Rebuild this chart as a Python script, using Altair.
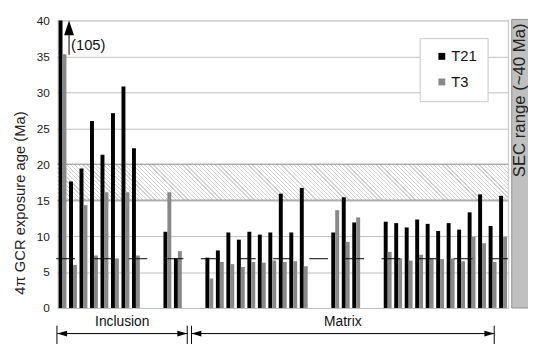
import altair as alt
import pandas as pd

# ---------------- data ----------------
group_names = ["Inclusion", "Inclusion", "Matrix", "Matrix", "Matrix"]
t21_groups = [
    [105, 17.6, 19.4, 26.0, 21.3, 27.1, 30.8, 22.2],
    [10.6, 6.9],
    [7.0, 8.0, 10.5, 9.5, 10.6, 10.2, 10.5, 15.9, 10.5, 16.7],
    [10.5, 15.4, 11.9],
    [12.0, 11.8, 11.2, 12.3, 11.7, 10.7, 11.8, 10.9, 13.3, 15.8, 11.4, 15.6],
]
t3_groups = [
    [35.3, 6.0, 14.3, 7.3, 16.1, 6.9, 16.1, 7.3],
    [16.1, 7.9],
    [4.1, 6.4, 6.1, 5.7, 6.4, 6.3, 6.6, 6.4, 6.5, 5.8],
    [13.6, 9.2, 12.6],
    [7.8, 6.9, 6.6, 7.4, 6.9, 6.8, 6.9, 6.5, 9.9, 9.0, 6.4, 9.9],
]
series = ["T21", "T3"]
series_colors = ["#000000", "#888888"]
reference_age = [6.85]
sec_band = [15, 20]
y_ticks = list(range(0, 41, 5))
y_max = 40
y_title = "4π GCR exposure age (Ma)"
sec_label = "SEC range (~40 Ma)"

# ---------------- table ----------------
GAP = 2
rows = []
slot = 0
for gi, (a, b) in enumerate(zip(t21_groups, t3_groups)):
    if gi > 0:
        slot += GAP
    for v21, v3 in zip(a, b):
        rows.append({"slot": slot, "series": "T21", "value": v21})
        rows.append({"slot": slot, "series": "T3", "value": v3})
        slot += 1
n_slots = slot
df = pd.DataFrame(rows)

# ---------------- layout ----------------
W, H = 458, 292
PAD = {"left": 50, "top": 10, "right": 20, "bottom": 34}
PX0, PY0 = 8 + PAD["left"], 8 + PAD["top"]


def px(x):
    return x - PX0


def py(y):
    return y - PY0


FONT = "Liberation Sans"
yscale = alt.Scale(domain=[0, y_max], nice=False, clamp=True)
yaxis = alt.Axis(
    values=y_ticks, grid=True, gridColor="#c0c0c0", domain=False, ticks=False,
    labelPadding=8, labelFontSize=12, labelColor="#222222",
    titleFontSize=15, titleFontWeight="normal", titleColor="#222222",
    titleX=-38, titleY=185, titleBaseline="middle",
)


def Y(field):
    return alt.Y(field, scale=yscale, axis=yaxis, title=y_title)


one = pd.DataFrame({"k": [0]})

# hatch band as striped gradient (diagonal lines)
band_h = H * (sec_band[1] - sec_band[0]) / y_max
r = band_h / W
ga = (1 + r) / (1 + r * r)
gb = ga * r
N = 118
stops = []
for k in range(N):
    s0 = k / N
    s1 = (k + 0.7) / N
    s2 = (k + 1) / N
    stops += [
        alt.GradientStop(offset=round(s0, 6), color="#ffffff"),
        alt.GradientStop(offset=round(s1, 6), color="#ffffff"),
        alt.GradientStop(offset=round(s1, 6), color="#d2d2d2"),
        alt.GradientStop(offset=round(min(s2, 1.0), 6), color="#d2d2d2"),
    ]
hatch_grad = alt.LinearGradient(
    gradient="linear", stops=stops, x1=0, y1=1, x2=ga, y2=1 - gb
)

band_df = pd.DataFrame({"lo": [sec_band[0]], "hi": [sec_band[1]]})
hatch = alt.Chart(band_df).mark_rect(fill=hatch_grad).encode(
    x=alt.value(0), x2=alt.value(W), y=Y("lo:Q"), y2="hi:Q"
)
band_lines = alt.Chart(pd.DataFrame({"v": sec_band})).mark_rule(
    color="#8c8c8c", strokeWidth=1
).encode(y=Y("v:Q"))

bars = alt.Chart(df).mark_bar().encode(
    x=alt.X("slot:O", scale=alt.Scale(domain=list(range(n_slots)),
            paddingInner=0.25, paddingOuter=0.125), axis=None),
    xOffset=alt.XOffset("series:N", scale=alt.Scale(domain=series,
                        paddingInner=0, paddingOuter=0)),
    y=Y("value:Q"),
    color=alt.Color("series:N", scale=alt.Scale(domain=series, range=series_colors),
                    legend=alt.Legend(
                        orient="none", legendX=px(426), legendY=py(36), title=None,
                        symbolType="square", symbolSize=49, symbolStrokeWidth=0,
                        labelFontSize=15, labelFont=FONT, labelColor="#111111",
                        padding=11, rowPadding=10, symbolOffset=4, labelOffset=2,
                        strokeColor="#c8c8c8", fillColor="#ffffff")),
)

ref_line = alt.Chart(pd.DataFrame({"v": reference_age})).mark_rule(
    color="#000000", strokeWidth=1, strokeDash=[19, 17.7]
).encode(y=Y("v:Q"), x=alt.value(-1), x2=alt.value(W))

right_border = alt.Chart(one).mark_rule(color="#c8c8c8").encode(
    x=alt.value(W), y=alt.value(py(17)), y2=alt.value(H)
)

# off-scale arrow for the first T21 value
arrow_line = alt.Chart(one).mark_rule(color="#000000", strokeWidth=1).encode(
    x=alt.value(px(70)), y=alt.value(py(31)), y2=alt.value(py(53))
)
arrow_head = alt.Chart(one).mark_point(
    shape="M0,-1L-0.667,1L0.667,1Z", filled=True, color="#000000", size=225, opacity=1
).encode(x=alt.value(px(70)), y=alt.value(py(25.5)))
arrow_text = alt.Chart(one).mark_text(
    text=f"({t21_groups[0][0]})", align="left", baseline="middle",
    fontSize=15, font=FONT, color="#111111"
).encode(x=alt.value(px(72)), y=alt.value(py(43)))

# SEC side panel
panel = alt.Chart(one).mark_rect(fill="#c0c0c0", stroke="#909090", strokeWidth=1).encode(
    x=alt.value(px(519.5)), x2=alt.value(px(545)), y=alt.value(py(17)), y2=alt.value(py(310))
)
panel_text = alt.Chart(one).mark_text(
    text=sec_label, angle=270, align="right", baseline="middle",
    fontSize=17, font=FONT, color="#222222"
).encode(x=alt.value(px(527.5)), y=alt.value(py(21)))

# bottom group brackets
vlines = alt.Chart(pd.DataFrame({"x": [px(57.7), px(190), px(194.3), px(501.7)]})).mark_rule(
    color="#000000", strokeWidth=1
).encode(x=alt.X("x:Q", scale=None), y=alt.value(py(328)), y2=alt.value(py(360)))
spans = pd.DataFrame({
    "x": [px(58), px(194.3)], "x2": [px(190), px(501.7)],
    "cx": [px(124), px(348)], "label": [group_names[0], group_names[2]],
})
hlines = alt.Chart(spans).mark_rule(color="#000000", strokeWidth=1).encode(
    x=alt.X("x:Q", scale=None), x2="x2:Q", y=alt.value(py(336))
)
heads_left = alt.Chart(spans).mark_point(
    shape="M-1,0L1,-0.57L1,0.57Z", filled=True, color="#000000", size=100, opacity=1
).encode(x=alt.X("xl:Q", scale=None), y=alt.value(py(336))).transform_calculate(
    xl="datum.x + 5")
heads_right = alt.Chart(spans).mark_point(
    shape="M1,0L-1,-0.57L-1,0.57Z", filled=True, color="#000000", size=100, opacity=1
).encode(x=alt.X("xr:Q", scale=None), y=alt.value(py(336))).transform_calculate(
    xr="datum.x2 - 5")
labels = alt.Chart(spans).mark_text(
    fontSize=14, font=FONT, color="#111111", baseline="middle", align="center"
).encode(x=alt.X("cx:Q", scale=None), y=alt.value(py(324)), text="label:N")

chart = alt.layer(
    hatch, band_lines, bars, ref_line, right_border,
    arrow_line, arrow_head, arrow_text, panel, panel_text,
    vlines, hlines, heads_left, heads_right, labels,
).properties(
    width=W, height=H,
    autosize=alt.AutoSizeParams(type="none"),
    padding=PAD,
).configure_view(stroke=None).configure(font=FONT)

chart.save("out.html", embed_options={"renderer": "svg", "actions": False})
